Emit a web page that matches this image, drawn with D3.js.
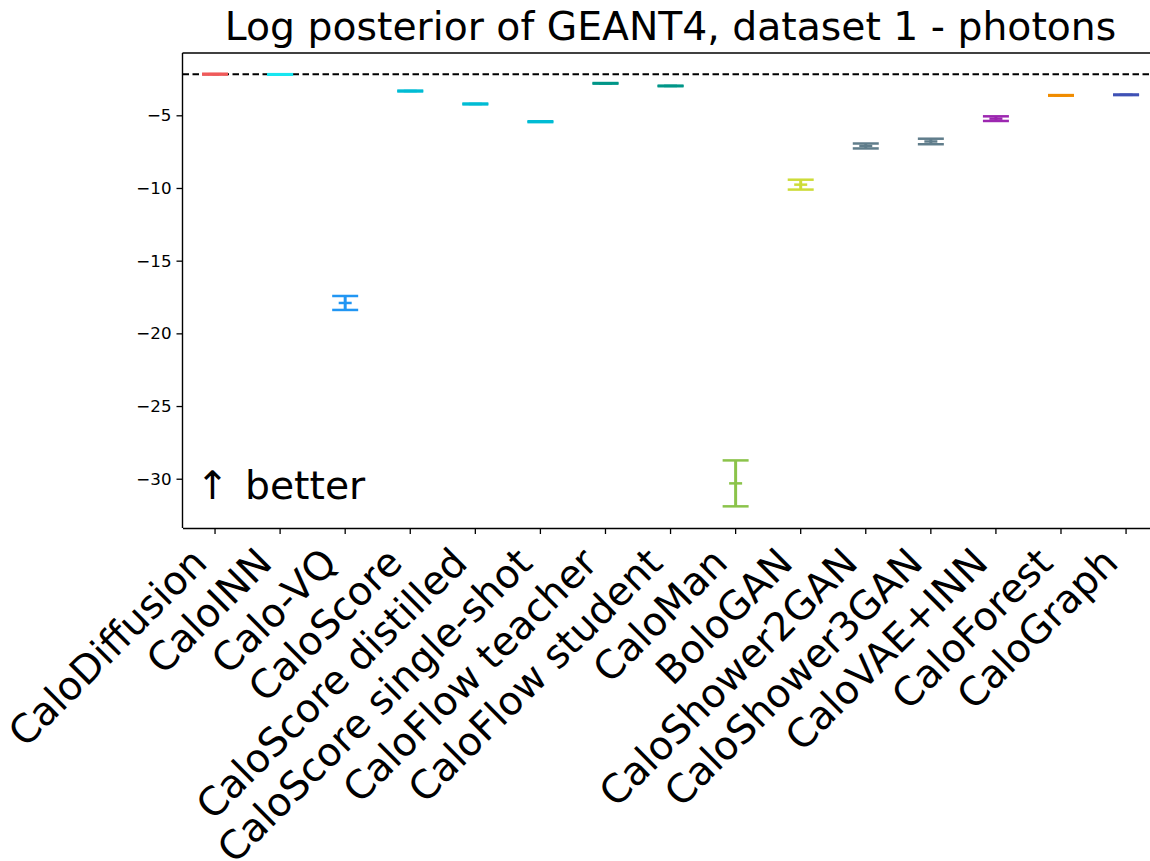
<!DOCTYPE html>
<html>
<head>
<meta charset="utf-8">
<script src="https://cdn.jsdelivr.net/npm/d3@7"></script>
<style>
  body { margin: 0; background: #fff; }
  svg { display: block; font-family: "DejaVu Sans", sans-serif; }
</style>
</head>
<body>
<div id="chart"></div>
<script>
// models, in plot order
const models = ["CaloDiffusion", "CaloINN", "Calo-VQ", "CaloScore", "CaloScore distilled",
  "CaloScore single-shot", "CaloFlow teacher", "CaloFlow student", "CaloMan", "BoloGAN",
  "CaloShower2GAN", "CaloShower3GAN", "CaloVAE+INN", "CaloForest", "CaloGraph"];

// log posterior (mean) and its uncertainty
const logPost = [-2.17, -2.19, -17.91, -3.33, -4.22, -5.44, -2.80, -2.98, -30.32, -9.77, -7.11, -6.80, -5.23, -3.63, -3.59];
const logErr  = [0.03, 0.02, 0.48, 0.03, 0.03, 0.03, 0.02, 0.02, 1.58, 0.34, 0.17, 0.19, 0.16, 0.02, 0.02];

const colors = ["#f05a5a", "#18e6f0", "#2196f3", "#00bcd4", "#00bcd4", "#00bcd4", "#009688", "#009688",
  "#8bc34a", "#cddc39", "#607d8b", "#607d8b", "#9c27b0", "#f08c00", "#3f51b5"];

const geantRef = -2.18;           // dashed reference line
const yTicks = [-5, -10, -15, -20, -25, -30];

const width = 1150;
const height = 861;
const marginLeft = 182.5;
const plotRight = 1158.6;
const marginTop = 53;
const plotBottom = 528;
const bigFont = 39.3;

const x = d3.scaleBand()
    .domain(models)
    .range([marginLeft, plotRight])
    .padding(0);

const y = d3.scaleLinear()
    .domain([-33.39, -0.714])
    .range([plotBottom, marginTop]);

const cx = d => x(d) + x.bandwidth() / 2;

const svg = d3.select("#chart").append("svg")
    .attr("width", width)
    .attr("height", height)
    .attr("viewBox", [0, 0, width, height]);

// dashed GEANT4 line
svg.append("line")
    .attr("x1", marginLeft).attr("x2", plotRight)
    .attr("y1", y(geantRef)).attr("y2", y(geantRef))
    .attr("stroke", "#000")
    .attr("stroke-width", 2)
    .attr("stroke-dasharray", "6.5,3.5");

// error bars
const capW = 13;
const g = svg.append("g")
  .selectAll("g")
  .data(models)
  .join("g")
    .attr("stroke", (d, i) => colors[i])
    .attr("stroke-width", 2.5);

g.append("line")
    .attr("x1", d => cx(d)).attr("x2", d => cx(d))
    .attr("y1", (d, i) => y(logPost[i] - logErr[i]))
    .attr("y2", (d, i) => y(logPost[i] + logErr[i]))
    .attr("stroke-width", 3);

[-1, 1].forEach(s => {
  g.append("line")
      .attr("x1", d => cx(d) - capW).attr("x2", d => cx(d) + capW)
      .attr("y1", (d, i) => y(logPost[i] + s * logErr[i]))
      .attr("y2", (d, i) => y(logPost[i] + s * logErr[i]));
});

g.append("line")
    .attr("x1", d => cx(d) - 6.5).attr("x2", d => cx(d) + 6.5)
    .attr("y1", (d, i) => y(logPost[i]))
    .attr("y2", (d, i) => y(logPost[i]));

// axes
const yAxis = svg.append("g")
    .attr("transform", `translate(${marginLeft},0)`)
    .call(d3.axisLeft(y).tickValues(yTicks).tickSize(6).tickPadding(5)
      .tickFormat(d => String(d).replace("-", "\u2212")));
yAxis.select(".domain").attr("stroke-width", 1.4).attr("d", `M0,${marginTop}V${plotBottom}`);
yAxis.selectAll(".tick line").attr("stroke-width", 1.3);
yAxis.selectAll("text").attr("font-size", 16.7).attr("font-family", "DejaVu Sans").attr("fill", "#000");

const xAxis = svg.append("g")
    .attr("transform", `translate(0,${plotBottom})`)
    .call(d3.axisBottom(x).tickSize(6).tickSizeOuter(0));
xAxis.select(".domain").attr("stroke-width", 1.4);
xAxis.selectAll(".tick line").attr("stroke-width", 1.3);
xAxis.selectAll(".tick text")
    .attr("font-size", bigFont)
    .attr("font-family", "DejaVu Sans")
    .attr("fill", "#000")
    .attr("text-anchor", "end")
    .attr("y", 0).attr("dy", 0)
    .attr("transform", "translate(-6,37) rotate(-45)");

// top spine
svg.append("line")
    .attr("x1", marginLeft).attr("x2", plotRight)
    .attr("y1", marginTop).attr("y2", marginTop)
    .attr("stroke", "#000").attr("stroke-width", 1.4);

// title
svg.append("text")
    .attr("x", (marginLeft + plotRight) / 2)
    .attr("y", 40)
    .attr("text-anchor", "middle")
    .attr("font-size", bigFont)
    .text("Log posterior of GEANT4, dataset 1 - photons");

const better = svg.append("text")
    .attr("x", 196)
    .attr("y", 499)
    .attr("font-size", bigFont);
better.append("tspan").text("\u2191");
better.append("tspan").attr("x", 245).text("better");
</script>
</body>
</html>
